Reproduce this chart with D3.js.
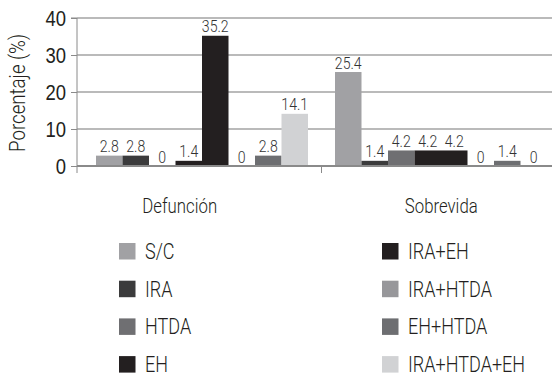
<!DOCTYPE html>
<html>
<head>
<meta charset="utf-8">
<script src="https://cdn.jsdelivr.net/npm/d3@7"></script>
<style>
  html, body { margin: 0; padding: 0; background: #fff; }
  svg { display: block; font-family: Roboto, "Liberation Sans Narrow", "DejaVu Sans Condensed", sans-serif; font-weight: 300; }
</style>
</head>
<body>
<svg id="chart" width="553" height="374"></svg>
<script>
// Outcome groups along the x axis
const categories = ["Defunción", "Sobrevida"];
// Complication groups (one bar each per outcome)
const series = ["S/C", "IRA", "HTDA", "EH", "IRA+EH", "IRA+HTDA", "EH+HTDA", "IRA+HTDA+EH"];
// Percentages per outcome, in series order
const defuncion = [2.8, 2.8, 0, 1.4, 35.2, 0, 2.8, 14.1];
const sobrevida = [25.4, 1.4, 4.2, 4.2, 4.2, 0, 1.4, 0];
// Fill per series
const colors = ["#a1a1a4", "#3b3b3c", "#6f6f72", "#231f20", "#231f20", "#97979a", "#6d6e71", "#d1d2d4"];
// Y axis ticks
const yTicks = [0, 10, 20, 30, 40];

const values = { "Defunción": defuncion, "Sobrevida": sobrevida };

const svg = d3.select("#chart");
const plot = { left: 77, right: 552, top: 18, bottom: 166 };

// Narrow the text horizontally to get a condensed face
function condense(sel, sx) {
  sel.each(function () {
    const t = d3.select(this);
    const x = +t.attr("x") || 0;
    const y = +t.attr("y") || 0;
    t.attr("x", 0).attr("y", 0)
      .attr("transform", `translate(${x},${y}) scale(${sx},1)`);
  });
}

const y = d3.scaleLinear().domain([0, 40]).range([plot.bottom, plot.top]);

// Bar groups
const x0 = d3.scaleBand().domain(categories).range([96, 547]).paddingInner(27 / 239).paddingOuter(0);
const x1 = d3.scaleBand().domain(series).range([0, x0.bandwidth()]);
const color = d3.scaleOrdinal().domain(series).range(colors);

// Category label positions
const xCat = d3.scaleBand().domain(categories).range([plot.left - 28, plot.left + 495]);

// Gridlines
svg.append("g")
  .selectAll("line")
  .data(yTicks.filter(d => d > 0))
  .join("line")
  .attr("x1", plot.left).attr("x2", plot.right)
  .attr("y1", d => y(d)).attr("y2", d => y(d))
  .attr("stroke", "#a3a3a3").attr("stroke-width", 1.3);

// Bars
const groups = svg.append("g")
  .selectAll("g")
  .data(categories)
  .join("g")
  .attr("transform", d => `translate(${x0(d)},0)`);

groups.selectAll("rect")
  .data(c => series.map((s, i) => ({ s, v: values[c][i] })))
  .join("rect")
  .attr("x", d => x1(d.s))
  .attr("width", x1.bandwidth())
  .attr("y", d => y(d.v))
  .attr("height", d => y(0) - y(d.v))
  .attr("fill", d => color(d.s));

// Value labels
groups.selectAll("text")
  .data(c => series.map((s, i) => ({ s, v: values[c][i] })))
  .join("text")
  .attr("x", d => x1(d.s) + x1.bandwidth() / 2)
  .attr("y", d => y(d.v) - 3.5)
  .attr("text-anchor", "middle")
  .attr("font-size", 16)
  .attr("fill", "#333")
  .text(d => d.v)
  .call(condense, 0.88);

// Y axis
const yAxis = svg.append("g")
  .attr("transform", `translate(${plot.left},0)`)
  .call(d3.axisLeft(y).tickValues(yTicks).tickSize(6).tickPadding(5).tickFormat(d3.format("d")));
yAxis.select(".domain").attr("stroke", "#8a8a8a").attr("d", `M-6,${y(40)}H0V${y(0) + 7}`);
yAxis.selectAll(".tick line").attr("stroke", "#8a8a8a");
yAxis.selectAll(".tick text")
  .attr("font-family", null)
  .attr("font-size", 22)
  .attr("fill", "#231f20")
  .attr("dy", "0.36em")
  .attr("transform", "scale(0.84,1)")
  .attr("x", -11 / 0.84);

// X axis line and category divider tick
const xAxisG = svg.append("g");
xAxisG.append("line")
  .attr("x1", plot.left).attr("x2", plot.right)
  .attr("y1", y(0)).attr("y2", y(0))
  .attr("stroke", "#8a8a8a").attr("stroke-width", 2);
const divider = (x0(categories[0]) + x0.bandwidth() + x0(categories[1])) / 2;
xAxisG.append("line")
  .attr("x1", divider).attr("x2", divider)
  .attr("y1", y(0)).attr("y2", y(0) + 7)
  .attr("stroke", "#8a8a8a").attr("stroke-width", 1);

// Category labels
svg.append("g")
  .selectAll("text")
  .data(categories)
  .join("text")
  .attr("x", d => xCat(d) + xCat.bandwidth() / 2)
  .attr("y", 213)
  .attr("text-anchor", "middle")
  .attr("font-size", 20)
  .attr("fill", "#231f20")
  .text(d => d)
  .call(condense, 0.84);

// Y axis title
svg.append("text")
  .attr("transform", `translate(25,93) rotate(-90) scale(0.85,1)`)
  .attr("text-anchor", "middle")
  .attr("font-size", 22)
  .attr("fill", "#231f20")
  .text("Porcentaje (%)");

// Legend: two columns of four
const legend = svg.append("g");
const legendItems = legend.selectAll("g")
  .data(series)
  .join("g")
  .attr("transform", (d, i) => `translate(${i < 4 ? 119 : 382},${243 + (i % 4) * 37.7})`);
legendItems.append("rect")
  .attr("width", 16.5).attr("height", 16.5)
  .attr("fill", d => color(d));
legendItems.append("text")
  .attr("x", 26).attr("y", 16)
  .attr("font-size", 22)
  .attr("fill", "#231f20")
  .text(d => d)
  .call(condense, 0.82);
</script>
</body>
</html>
